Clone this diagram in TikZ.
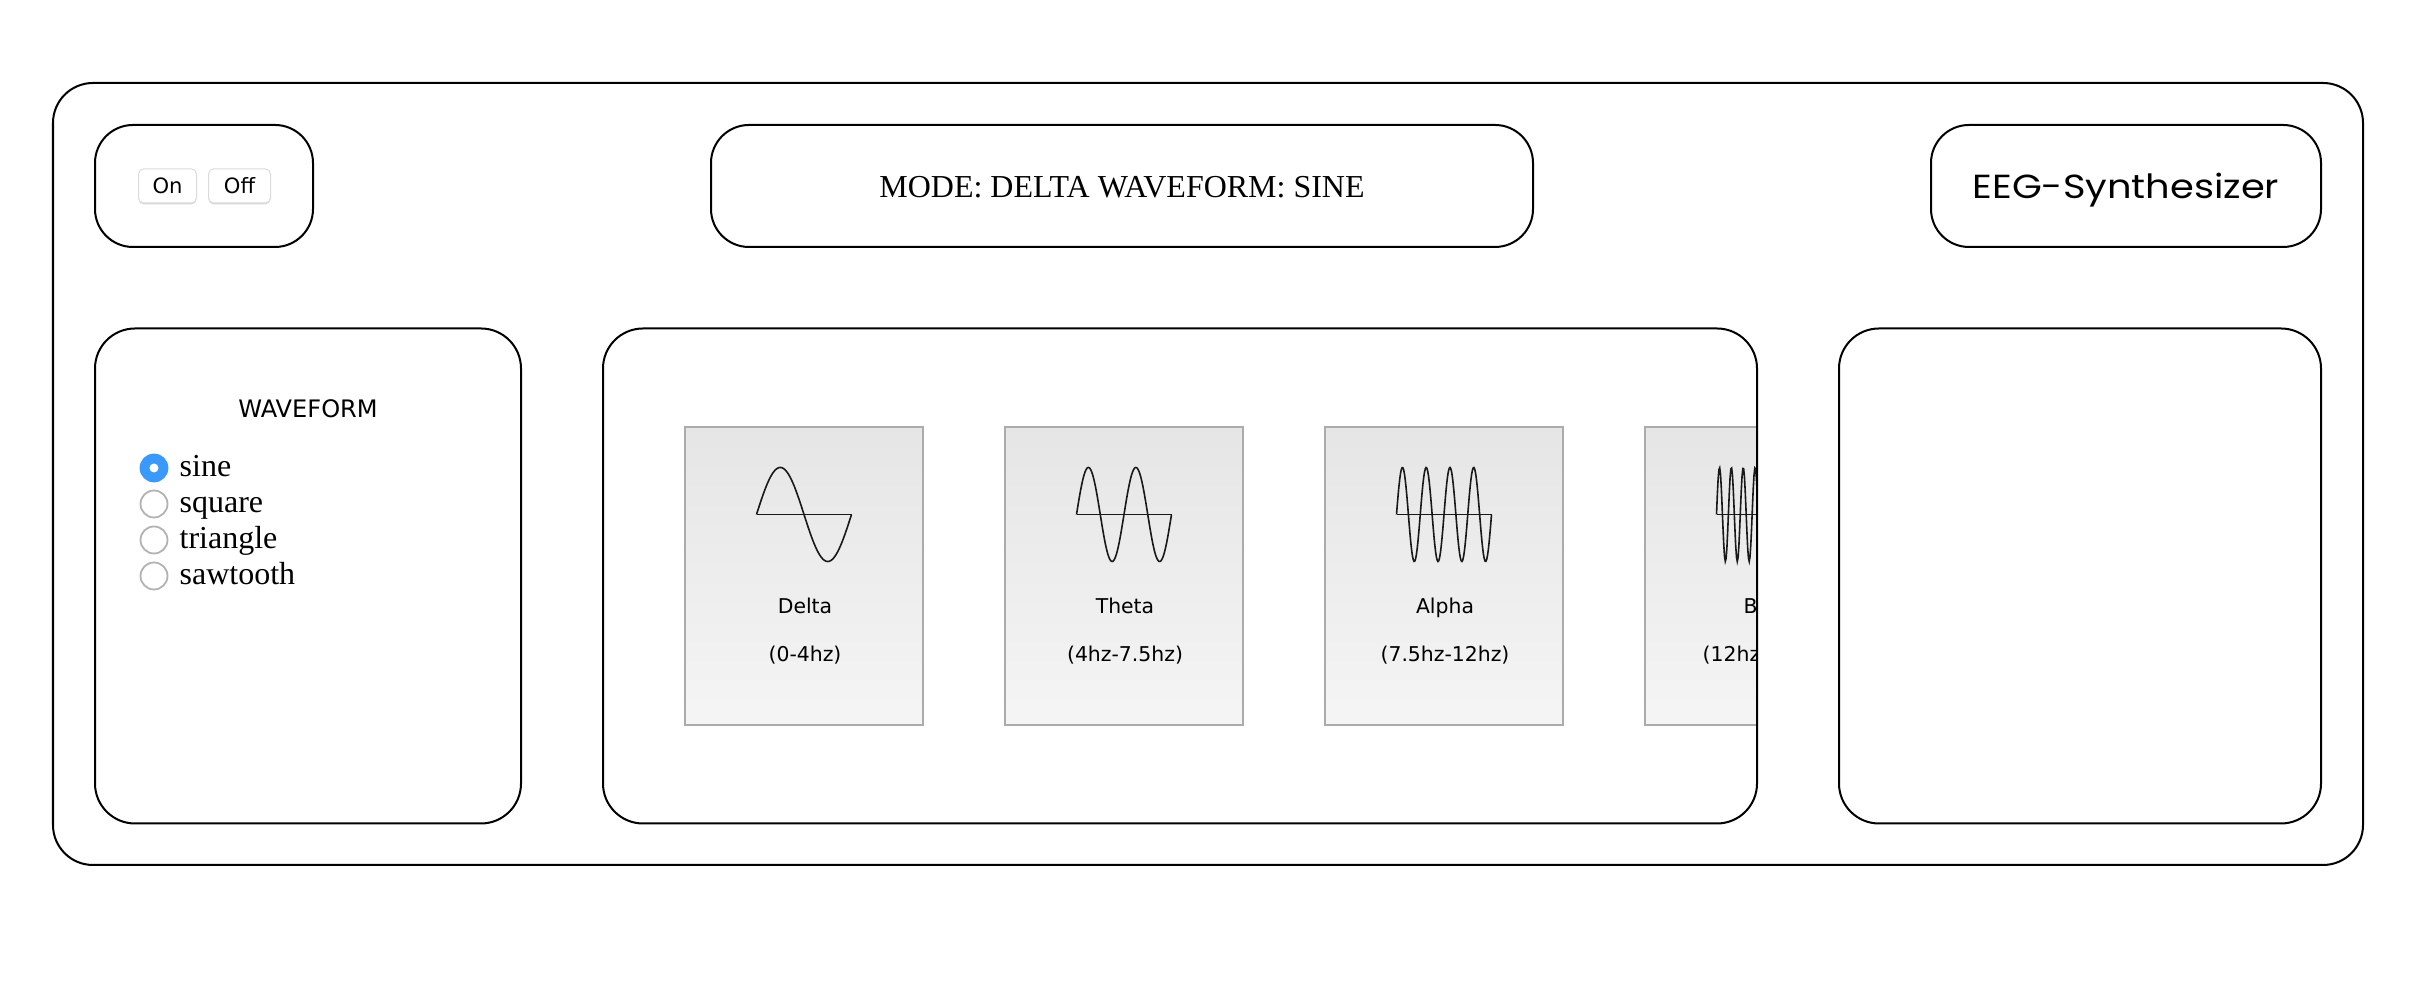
\documentclass[tikz,border=0pt]{standalone}
\usepackage{fontspec}
\setmainfont{Liberation Serif}
\setsansfont{DejaVu Sans}
\newfontfamily\titlefont[FakeStretch=1.15]{Poppins}
\usepackage{xcolor}
\usetikzlibrary{shadows}
\definecolor{radioblue}{HTML}{3B99FC}
\definecolor{cardline}{HTML}{ABABAB}

\begin{document}
\begin{tikzpicture}[
  panel/.style={draw,line width=.02cm,rounded corners=.4cm,minimum height=4.95cm},
  topbox/.style={panel,minimum height=1.22cm,rounded corners=.38cm,text height=.24cm,text depth=0pt},
  btn/.style={draw=black!14,fill=white,line width=.01cm,rounded corners=.05cm,minimum height=.34cm,
    inner sep=0pt,font=\sffamily\fontsize{6}{7}\selectfont,drop shadow={opacity=.3,shadow xshift=0cm,shadow yshift=-.014cm}},
  card/.style={draw=cardline,line width=.02cm,top color=black!10,bottom color=black!4,minimum width=2.38cm,minimum height=2.98cm},
  wave/.style={line width=.016cm,black!90},
  lbl/.style={anchor=base,font=\sffamily\fontsize{5.8}{7}\selectfont,inner sep=0pt},
  radio/.style={circle,draw=black!30,fill=white,line width=.018cm,minimum size=.27cm,inner sep=0pt},
  opt/.style={anchor=base west,inner sep=0pt,font=\fontsize{9.1}{11}\selectfont}]
\useasboundingbox (0,0) rectangle (24.36,9.94);
\node[panel,minimum width=23.1cm,minimum height=7.82cm] (app) at (12.08,5.2) {};
% top row
\node[topbox,minimum width=2.18cm] (power) at (2.04,8.08) {};
\node[btn,minimum width=.58cm] (on) at (1.675,8.08) {On};
\node[btn,minimum width=.62cm] (off) at (2.395,8.08) {Off};
\node[topbox,minimum width=8.22cm,font=\fontsize{9.1}{11}\selectfont] (mode) at (11.22,8.08) {MODE: DELTA WAVEFORM: SINE};
\node[topbox,minimum width=3.9cm,text height=.25cm] (title) at (21.26,8.08) {\titlefont\fontsize{9.5}{11}\selectfont EEG-Synthesizer};
% waveform chooser
\node[panel,minimum width=4.26cm] (chooser) at (3.08,4.18) {};
\node[font=\sffamily\fontsize{6.85}{8}\selectfont,inner sep=0pt] (chooserhead) at (3.08,5.85) {WAVEFORM};
\node[radio,draw=radioblue,fill=radioblue] (sine) at (1.54,5.26) {};
\node[circle,fill=white,minimum size=.09cm,inner sep=0pt] (sinedot) at (sine) {};
\node[radio] (square) at (1.54,4.9) {};
\node[radio] (triangle) at (1.54,4.54) {};
\node[radio] (sawtooth) at (1.54,4.18) {};
\node[opt] (sinetxt) at (1.79,5.17) {sine};
\node[opt] (squaretxt) at (1.79,4.81) {square};
\node[opt] (triangletxt) at (1.79,4.45) {triangle};
\node[opt] (sawtoothtxt) at (1.79,4.09) {sawtooth};
% bands, the last one is cut off by its panel
\begin{scope}
\clip[rounded corners=.4cm] (6.03,1.71) rectangle (17.57,6.65);
\foreach \band/\cx/\cyc in {delta/8.04/1,theta/11.24/2,alpha/14.44/4,beta/17.64/8}{
  \node[card] (\band) at (\cx,4.175) {};
  \draw[wave] (\cx-.475,4.795) -- (\cx+.475,4.795);
  \draw[wave] plot[domain=0:.95,samples=120] ({\cx-.475+\x},{4.795+.47*sin(360*\cyc*\x/.95)});
}
\node[lbl,anchor=base west] (betaname) at (17.43,3.8) {B};
\node[lbl,anchor=base west] (betarange) at (17.02,3.32) {(12hz};
\end{scope}
\node[lbl] (deltaname) at (8.05,3.8) {Delta};
\node[lbl] (deltarange) at (8.05,3.32) {(0-4hz)};
\node[lbl] (thetaname) at (11.25,3.8) {Theta};
\node[lbl] (thetarange) at (11.25,3.32) {(4hz-7.5hz)};
\node[lbl] (alphaname) at (14.45,3.8) {Alpha};
\node[lbl] (alpharange) at (14.45,3.32) {(7.5hz-12hz)};
\node[panel,minimum width=11.54cm] (bands) at (11.8,4.18) {};
\node[panel,minimum width=4.82cm] (spare) at (20.8,4.18) {};
\end{tikzpicture}
\end{document}
